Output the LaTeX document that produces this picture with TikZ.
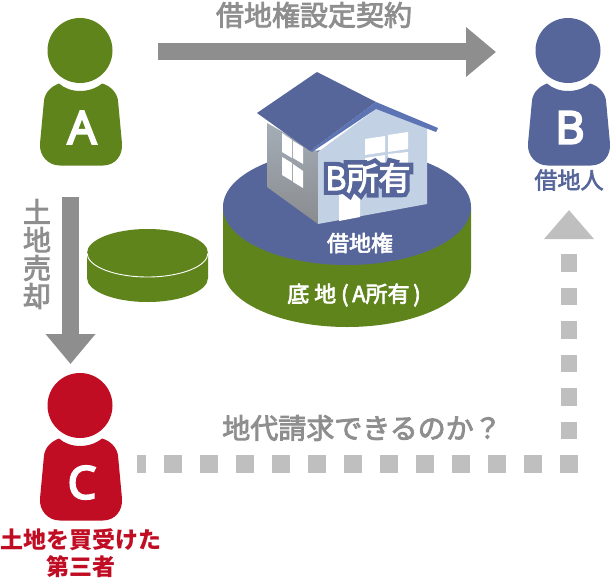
\documentclass[tikz,border=0pt]{standalone}
\usepackage{fontspec}
\usetikzlibrary{arrows.meta}
\setmainfont{Open Sans}[FakeBold=5]
\newfontfamily\jpfont{Noto Sans CJK JP}
\newfontfamily\jpmed[FakeBold=3]{Noto Sans CJK JP}
\newfontfamily\jphalo[FakeBold=30]{Noto Sans CJK JP}
\definecolor{grnA}{HTML}{5F841B}
\definecolor{bluB}{HTML}{56669A}
\definecolor{redC}{HTML}{C00D23}
\definecolor{grayDark}{HTML}{8E8E8E}
\definecolor{grayLight}{HTML}{BFBFBF}
\definecolor{wallFront}{HTML}{C2D2E4}
\definecolor{eaveBlue}{HTML}{5C74B4}
% person = head + body + letter
\newcommand{\personFig}[4]{
	\begin{scope}[shift={(#2)}]
		\node[headStyle, fill=#3] (head#1) at (0,0) {};
		\fill[#3] (-21,33) .. controls (-10,43) and (10,43) .. (22,33)
			.. controls (30,35) and (37,42) .. (38,50)
			-- (42,93) .. controls (43,105) and (35,115) .. (23,115)
			-- (-20,115) .. controls (-32,115) and (-41,105) .. (-40,93)
			-- (-36,50) .. controls (-35,42) and (-29,36) .. (-21,33) -- cycle;
		\node[letterStyle] (letter#1) at (2,77) {#4};
	\end{scope}
}
\begin{document}
\begin{tikzpicture}[x=1pt, y=-1pt]
	\tikzstyle{headStyle}=[shape = circle, minimum size = 65pt, inner sep = 0pt]
	\tikzstyle{letterStyle}=[text = white, inner sep = 0pt, font=\fontsize{45}{45}\selectfont]
	\tikzstyle{bigArrow}=[line width = 17pt, grayDark, -{Triangle[length=30pt, width=48pt]}]
	\tikzstyle{dotLine}=[line width = 17.5pt, grayLight]
	\tikzstyle{grayText}=[text = grayDark, inner sep = 0pt, font=\fontsize{28}{28}\selectfont\jpmed]
	\tikzstyle{whiteText}=[text = white, inner sep = 0pt, font=\fontsize{22}{22}\selectfont\jpmed]
	\useasboundingbox (0,0) rectangle (610,586);

	\personFig{A}{80,50.5}{grnA}{A}
	\personFig{B}{568,50.5}{bluB}{\raisebox{-2.5pt}{B}}
	\personFig{C}{80,405.5}{redC}{C}

	% small disc
	\fill[grnA] (87,253) -- (87,278) arc[start angle=180, end angle=360, x radius=60.5pt, y radius=24pt] -- (208,253) -- cycle;
	\fill[grnA] (147.5,253) ellipse[x radius=60.5pt, y radius=24pt];
	\draw[white, line width=0.9pt] (87,253) arc[start angle=180, end angle=360, x radius=60.5pt, y radius=24pt];

	% big disc
	\fill[grnA] (223,207) -- (223,269) arc[start angle=180, end angle=360, x radius=124pt, y radius=58pt] -- (471,207) -- cycle;
	\fill[bluB] (347,207) ellipse[x radius=124pt, y radius=58pt];

	% house
	\shade[top color=gray!45!wallFront, bottom color=gray!85!wallFront] (267,123) -- (267,187) -- (318,224) -- (318,152) -- cycle;
	\fill[wallFront] (318,152) -- (376,109) -- (427,128) -- (427,204) -- (318,224) -- cycle;
	\fill[white] (282,133) -- (292,140) -- (292,158) -- (282,152) -- cycle;
	\fill[white] (293,141) -- (303,147) -- (303,164) -- (293,158) -- cycle;
	\fill[white] (282,157) -- (292,163) -- (292,181) -- (282,175) -- cycle;
	\fill[white] (293,164) -- (303,171) -- (303,188) -- (293,182) -- cycle;
	\fill[white] (365,139) -- (385,136) -- (385,152) -- (365,155) -- cycle;
	\fill[white] (388,135) -- (408,132) -- (408,149) -- (388,152) -- cycle;
	\fill[white] (365,158) -- (385,155) -- (385,173) -- (365,176) -- cycle;
	\fill[white] (388,154) -- (408,152) -- (408,170) -- (388,172) -- cycle;
	\fill[white] (339,190) -- (360,186) -- (360,217) -- (339,221) -- cycle;
	\fill[eaveBlue] (376,102) -- (438,128) -- (436,132) -- (376,109) -- (312,152) -- (310,151) -- cycle;
	\fill[bluB] (317,72) -- (257,113) -- (310,151) -- (376,102) -- cycle;

	\node[inner sep = 0pt, text = bluB, font=\fontsize{32}{32}\selectfont\jphalo] (ownerHalo) at (368,178) {B所有};
	\node[inner sep = 0pt, text = white, font=\fontsize{32}{32}\selectfont\jpmed] (ownerB) at (368,178) {B所有};
	\node[whiteText] (leasehold) at (360,243) {借地権};
	\node[whiteText] (landA) at (354,295) {底 地 (\,A所有\,)};

	% arrows
	\coordinate (sellTop) at (70.5,197);
	\coordinate (sellTip) at (70.5,364);
	\coordinate (contractL) at (158,52);
	\coordinate (contractR) at (496,52);
	\draw[bigArrow] (contractL) -- (contractR);
	\draw[bigArrow] (sellTop) -- (sellTip);

	% dotted claim line
	\coordinate (claimCorner) at (577.5,464);
	\coordinate (claimC) at (137,464);
	\coordinate (claimFoot) at (569,472.5);
	\coordinate (claimB) at (569,210);
	\draw[dotLine, dash pattern=on 18pt off 18pt] (claimCorner) -- (claimC);
	\draw[dotLine, line width=16.5pt, dash pattern=on 17.5pt off 16pt, -{Triangle[length=29pt, width=48pt]}] (claimFoot) -- (claimB);

	% labels
	\node[grayText] (contract) at (314,15) {借地権設定契約};
	\node[grayText, align=center] (sell) at (37,254) {土\\地\\売\\却};
	\node[grayText] (claim) at (362,428) {地代請求できるのか？};
	\node[inner sep = 0pt, text = bluB, font=\fontsize{23}{23}\selectfont\jpmed] (lesseeB) at (569,180) {借地人};
	\node[inner sep = 0pt, text = redC, align=center, font=\fontsize{23}{27}\selectfont\jpfont\bfseries] (buyerC) at (81,553) {土地を買受けた\\第三者};
\end{tikzpicture}
\end{document}
